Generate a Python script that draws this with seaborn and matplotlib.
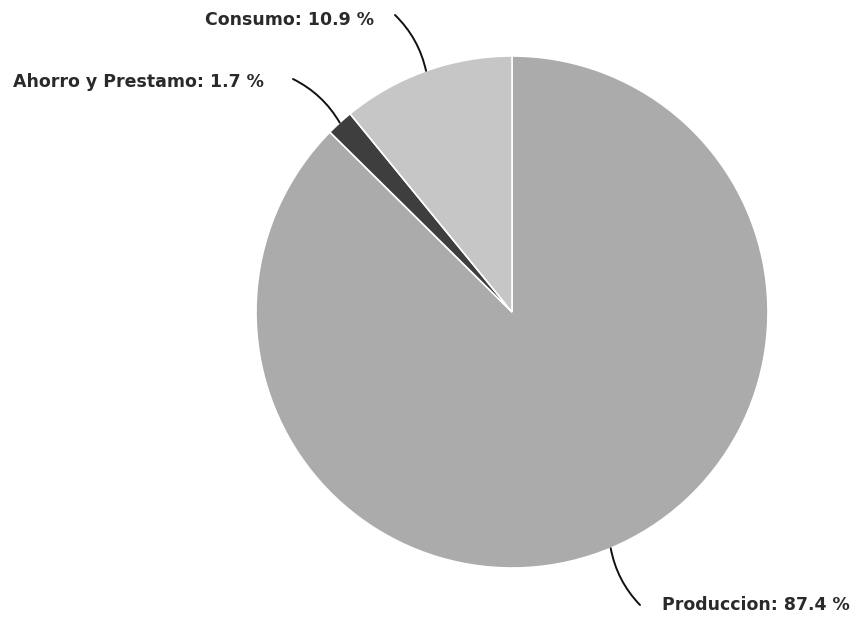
import numpy as np
import matplotlib
matplotlib.use("Agg")
import matplotlib.pyplot as plt
import seaborn as sns

labels = ["Produccion", "Ahorro y Prestamo", "Consumo"]
values = [87.4, 1.7, 10.9]
colors = ["#ababab", "#3e3e3e", "#c6c6c6"]

sns.set_theme(style="white")
plt.rcParams['font.family'] = ['DejaVu Sans']

fig = plt.figure(figsize=(8.54, 6.21), dpi=100)
ax = fig.add_axes([0, 0, 1, 1])

cx, cy, r = 512, 309, 256
wedges, _ = ax.pie(values, colors=colors, startangle=90, counterclock=False,
                   center=(cx, cy), radius=r, frame=True,
                   wedgeprops=dict(edgecolor="white", linewidth=1.2))
ax.set_xlim(0, 854)
ax.set_ylim(0, 621)
ax.set_aspect('equal')
ax.axis('off')

# label layout: (text x, text y, ha, line start x, line start y, rad)
layout = {
    "Produccion": (662, 16, "left", 640, 16, -0.15),
    "Ahorro y Prestamo": (264, 539, "right", 293, 542, -0.15),
    "Consumo": (374, 601, "right", 395, 606, -0.15),
}

for w, lab, v in zip(wedges, labels, values):
    mid = np.deg2rad((w.theta1 + w.theta2) / 2)
    ex, ey = cx + r * np.cos(mid), cy + r * np.sin(mid)
    tx, ty, ha, lx, ly, rad = layout[lab]
    ax.annotate("", xy=(ex, ey), xytext=(lx, ly),
                arrowprops=dict(arrowstyle="-", color="#111111", lw=1.4,
                                connectionstyle=f"arc3,rad={rad}",
                                shrinkA=0, shrinkB=0))
    ax.text(tx, ty, f"{lab}: {v} %", ha=ha, va="center", fontsize=12.5,
            fontweight="bold", color="#2a2a2a")

fig.savefig("out.png", dpi=100, facecolor="white")
